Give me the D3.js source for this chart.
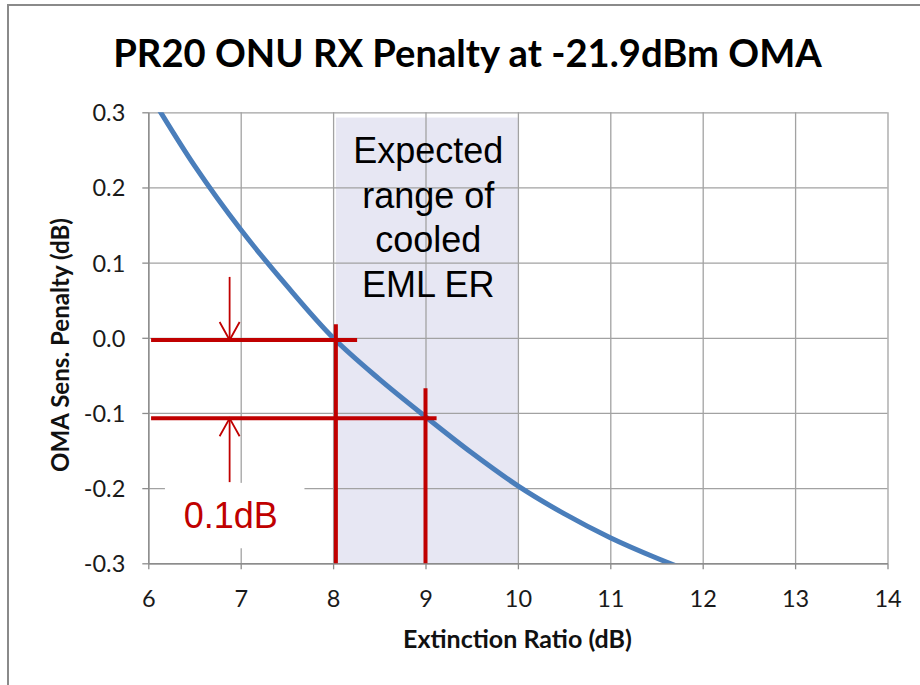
<!DOCTYPE html>
<html><head><meta charset="utf-8">
<script src="https://cdn.jsdelivr.net/npm/d3@7"></script>
<style>body{margin:0;background:#fff}svg{display:block}</style>
</head><body>
<svg id="c" width="920" height="685"></svg>
<script>
// ---- data ----
const titleText = "PR20 ONU RX Penalty at -21.9dBm OMA";
const xTitle = "Extinction Ratio (dB)";
const yTitle = "OMA Sens. Penalty (dB)";
const xTicks = [6, 7, 8, 9, 10, 11, 12, 13, 14];
const yTicks = [-0.3, -0.2, -0.1, 0.0, 0.1, 0.2, 0.3];
const erValues = [6, 6.5, 7, 7.5, 8, 8.5, 9, 9.5, 10, 10.5, 11, 11.5, 12];
const penaltyValues = [0.327, 0.229, 0.144, 0.069, 0.0, -0.055, -0.105, -0.153, -0.197, -0.234, -0.266, -0.293, -0.317];
const shadeX = [8.03, 10];
const shadeY = [-0.3, 0.293];
const shadeLines = ["Expected", "range of", "cooled", "EML ER"];
const refHoriz = [{ y: -0.003, x0: 6.03, x1: 8.26 }, { y: -0.107, x0: 6.03, x1: 9.12 }];
const refVert = [{ x: 8.03, y0: 0.018, y1: -0.3 }, { x: 9.0, y0: -0.067, y1: -0.3 }];
const arrows = [{ x: 6.88, from: 0.081, to: -0.003 }, { x: 6.88, from: -0.192, to: -0.107 }];
const deltaLabel = "0.1dB";
const deltaBox = { x0: 6.18, x1: 7.69, y0: -0.193, y1: -0.28 };

// ---- layout ----
const svg = d3.select("#c");
const L = 148.3, R = 887.5, T = 112.3, B = 563.3;
const x = d3.scaleLinear().domain([6, 14]).range([L, R]);
const y = d3.scaleLinear().domain([-0.3, 0.3]).range([B, T]);
const red = "#C00000", grid = "#A2A2A2";

// outer border
svg.append("rect").attr("x", 8).attr("y", 5).attr("width", 940).attr("height", 700)
  .attr("fill", "#fff").attr("stroke", "#8a8a8a").attr("stroke-width", 2);

// shaded region
svg.append("rect").attr("x", x(shadeX[0])).attr("y", y(shadeY[1]))
  .attr("width", x(shadeX[1]) - x(shadeX[0])).attr("height", y(shadeY[0]) - y(shadeY[1]))
  .attr("fill", "#E7E7F3");

// gridlines
const gx = svg.append("g").attr("transform", `translate(0,${B})`)
  .call(d3.axisBottom(x).tickValues(xTicks).tickSize(-(B - T)).tickFormat(""));
gx.selectAll("line").attr("stroke", grid).attr("stroke-width", 1.3);
gx.select(".domain").remove();
const gy = svg.append("g").attr("transform", `translate(${L},0)`)
  .call(d3.axisLeft(y).tickValues(yTicks).tickSize(-(R - L)).tickFormat(""));
gy.selectAll("line").attr("stroke", grid).attr("stroke-width", 1.3);
gy.select(".domain").remove();

// axes with outside ticks and labels
const ax = svg.append("g").attr("transform", `translate(0,${B})`)
  .call(d3.axisBottom(x).tickValues(xTicks).tickSize(6).tickSizeOuter(0).tickFormat(d3.format("d")));
ax.select(".domain").attr("stroke", "#8c8c8c").attr("stroke-width", 1.4);
ax.selectAll("line").attr("stroke", "#8c8c8c").attr("stroke-width", 1.3);
ax.selectAll("text").attr("font-family", "Lato").attr("font-size", 23.5).attr("fill", "#1a1a1a")
  .attr("y", 0).attr("dy", null).attr("transform", "translate(0,44)");
const fmtY = d => d3.format(".1f")(d).replace("\u2212", "-");
const ay = svg.append("g").attr("transform", `translate(${L},0)`)
  .call(d3.axisLeft(y).tickValues(yTicks).tickSize(6).tickSizeOuter(0).tickFormat(fmtY));
ay.select(".domain").attr("stroke", "#8c8c8c").attr("stroke-width", 1.4);
ay.selectAll("line").attr("stroke", "#8c8c8c").attr("stroke-width", 1.3);
ay.selectAll("text").attr("font-family", "Lato").attr("font-size", 23.5).attr("fill", "#1a1a1a")
  .attr("x", -23).attr("dy", "0.36em");

// white box behind label
svg.append("rect").attr("x", x(deltaBox.x0)).attr("y", y(deltaBox.y0))
  .attr("width", x(deltaBox.x1) - x(deltaBox.x0)).attr("height", y(deltaBox.y1) - y(deltaBox.y0))
  .attr("fill", "#fff");

// curve (clipped)
svg.append("clipPath").attr("id", "pc").append("rect")
  .attr("x", L).attr("y", T).attr("width", R - L).attr("height", B - T);
const pts = erValues.map((d, i) => [d, penaltyValues[i]]);
svg.append("path").datum(pts).attr("clip-path", "url(#pc)")
  .attr("d", d3.line().x(d => x(d[0])).y(d => y(d[1])).curve(d3.curveCatmullRom))
  .attr("fill", "none").attr("stroke", "#4A7EBB").attr("stroke-width", 5);

// red reference lines
svg.selectAll(".rh").data(refHoriz).join("line")
  .attr("x1", d => x(d.x0)).attr("x2", d => x(d.x1)).attr("y1", d => y(d.y)).attr("y2", d => y(d.y))
  .attr("stroke", red).attr("stroke-width", 4);
svg.selectAll(".rv").data(refVert).join("line")
  .attr("x1", d => x(d.x)).attr("x2", d => x(d.x)).attr("y1", d => y(d.y0)).attr("y2", d => y(d.y1))
  .attr("stroke", red).attr("stroke-width", 4);

// arrows
arrows.forEach(a => {
  const xa = x(a.x), y0 = y(a.from), y1 = y(a.to);
  const dir = y1 > y0 ? 1 : -1;
  svg.append("line").attr("x1", xa).attr("x2", xa).attr("y1", y0).attr("y2", y1)
    .attr("stroke", red).attr("stroke-width", 1.8);
  svg.append("path").attr("d", `M${xa - 10},${y1 - dir * 18}L${xa},${y1}L${xa + 10},${y1 - dir * 18}`)
    .attr("fill", "none").attr("stroke", red).attr("stroke-width", 1.8);
});

// labels
svg.append("text").attr("x", (x(deltaBox.x0) + x(deltaBox.x1)) / 2 - 4).attr("y", 528)
  .attr("text-anchor", "middle").attr("font-family", "Liberation Sans").attr("font-size", 36)
  .attr("fill", red).text(deltaLabel);
svg.append("g").selectAll("text").data(shadeLines).join("text")
  .attr("x", x(9.03)).attr("y", (d, i) => 163 + i * 44.7)
  .attr("text-anchor", "middle").attr("font-family", "Liberation Sans").attr("font-size", 36)
  .attr("fill", "#000").text(d => d);

function fit(sel, target) {
  const w = sel.node().getComputedTextLength();
  const fs = parseFloat(sel.attr("font-size"));
  sel.attr("font-size", fs * target / w);
}
const t = svg.append("text").attr("x", 467.5).attr("y", 67).attr("text-anchor", "middle")
  .attr("font-family", "Lato").attr("font-weight", "bold").attr("font-size", 34).attr("fill", "#000").text(titleText);
fit(t, 709);
const xt = svg.append("text").attr("x", 517.5).attr("y", 648).attr("text-anchor", "middle")
  .attr("font-family", "Lato").attr("font-weight", "bold").attr("font-size", 26).attr("fill", "#111").text(xTitle);
fit(xt, 229);
const yt = svg.append("text").attr("transform", "translate(69,345) rotate(-90)").attr("text-anchor", "middle")
  .attr("font-family", "Lato").attr("font-weight", "bold").attr("font-size", 26).attr("fill", "#111").text(yTitle);
fit(yt, 254);
</script>
</body></html>
